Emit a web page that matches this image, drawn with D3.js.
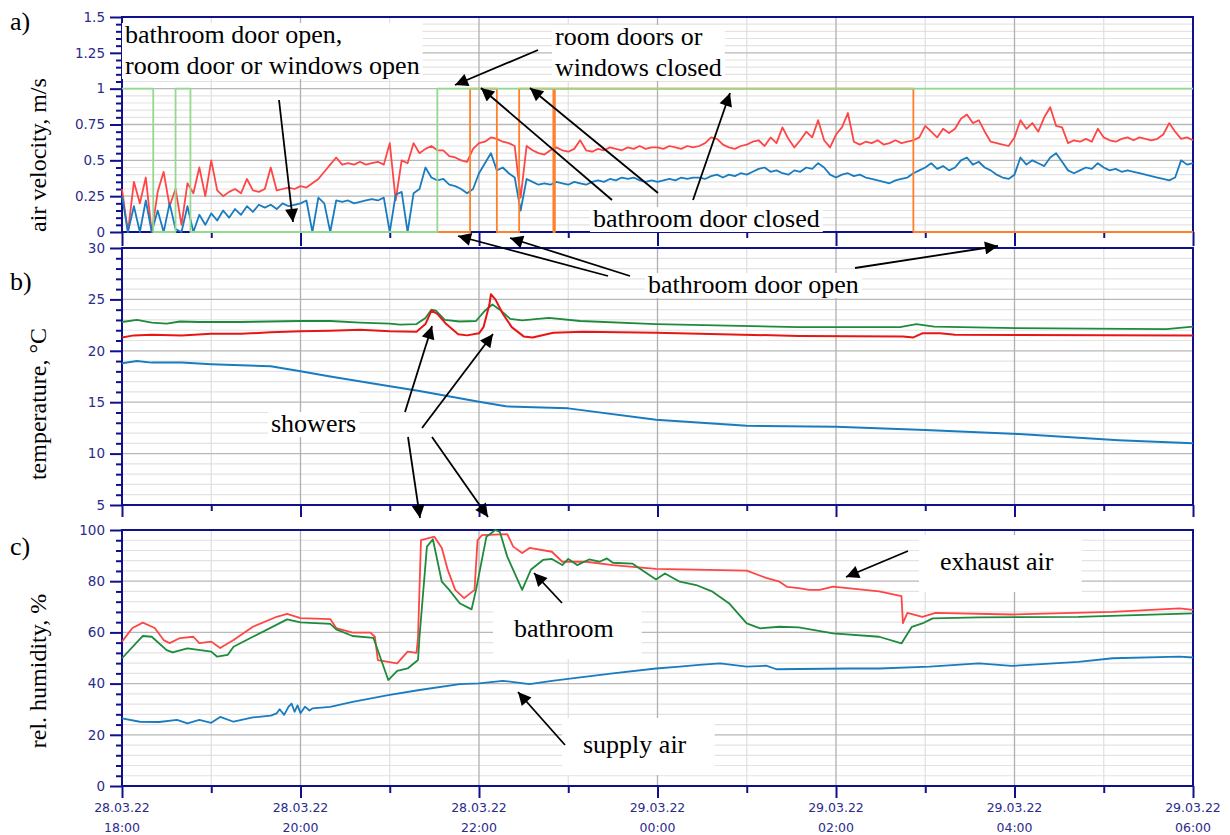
<!DOCTYPE html>
<html>
<head>
<meta charset="utf-8">
<script src="https://cdn.jsdelivr.net/npm/d3@7"></script>
<style>
body { margin: 0; background: #fff; }
svg text { font-family: "Liberation Serif", "Times New Roman", serif; }
.tk text { font-family: "DejaVu Sans", Tahoma, sans-serif; font-size: 12.5px; fill: #2b2b8c; }
.yl text { font-size: 13.5px; }
</style>
</head>
<body>
<svg id="chart" width="1230" height="835"></svg>
<script>
// ---- data ----
const xTickMinutes = [0, 120, 240, 360, 480, 600, 720];
const xTickDates = ['28.03.22', '28.03.22', '28.03.22', '29.03.22', '29.03.22', '29.03.22', '29.03.22'];
const xTickTimes = ['18:00', '20:00', '22:00', '00:00', '02:00', '04:00', '06:00'];

const veloTicks = [0, 0.25, 0.5, 0.75, 1, 1.25, 1.5];
const tempTicks = [5, 10, 15, 20, 25, 30];
const humTicks = [0, 20, 40, 60, 80, 100];

// air velocity, one sample every 4 minutes from 18:00
const veloMinutes = d3.range(0, 721, 4);
const veloExhaust = [
  0.30,0.00,0.35,0.20,0.38,0.00,0.28,0.42,0.18,0.30,0.05,0.34,0.27,0.45,0.25,
  0.50,0.29,0.25,0.28,0.30,0.27,0.37,0.29,0.28,0.30,0.45,0.29,0.30,0.31,0.30,
  0.32,0.31,0.34,0.37,0.42,0.47,0.52,0.47,0.48,0.47,0.49,0.47,0.48,0.49,0.47,
  0.62,0.22,0.50,0.48,0.62,0.55,0.58,0.60,0.57,0.57,0.53,0.52,0.50,0.49,0.58,
  0.62,0.63,0.66,0.65,0.63,0.62,0.60,0.24,0.60,0.57,0.55,0.54,0.57,0.59,0.57,
  0.56,0.58,0.64,0.57,0.56,0.58,0.57,0.59,0.58,0.57,0.59,0.58,0.60,0.58,0.59,
  0.59,0.58,0.60,0.59,0.58,0.60,0.59,0.60,0.62,0.66,0.65,0.61,0.59,0.58,0.60,
  0.61,0.63,0.64,0.60,0.66,0.62,0.73,0.65,0.59,0.64,0.70,0.66,0.78,0.64,0.59,
  0.68,0.73,0.83,0.63,0.61,0.63,0.62,0.64,0.61,0.62,0.64,0.62,0.63,0.64,0.66,
  0.74,0.70,0.66,0.72,0.69,0.72,0.79,0.82,0.76,0.78,0.70,0.63,0.62,0.61,0.60,
  0.66,0.78,0.72,0.76,0.70,0.80,0.87,0.74,0.73,0.62,0.64,0.63,0.65,0.63,0.72,
  0.66,0.64,0.63,0.65,0.66,0.64,0.66,0.65,0.64,0.65,0.68,0.76,0.70,0.65,0.66,
  0.64
];
const veloSupply = [
  0.25,0.00,0.18,0.00,0.22,0.00,0.15,0.00,0.20,0.02,0.00,0.18,0.00,0.12,0.05,
  0.13,0.08,0.15,0.10,0.16,0.12,0.18,0.14,0.19,0.17,0.19,0.16,0.20,0.18,0.19,
  0.20,0.22,0.00,0.24,0.20,0.00,0.22,0.21,0.22,0.20,0.21,0.22,0.23,0.22,0.24,
  0.00,0.26,0.28,0.00,0.27,0.30,0.45,0.38,0.36,0.37,0.33,0.32,0.30,0.27,0.30,
  0.41,0.48,0.55,0.43,0.45,0.41,0.38,0.15,0.37,0.35,0.33,0.34,0.33,0.35,0.34,
  0.33,0.35,0.34,0.33,0.35,0.36,0.35,0.37,0.36,0.38,0.37,0.38,0.36,0.35,0.36,
  0.35,0.36,0.37,0.36,0.38,0.37,0.38,0.38,0.37,0.39,0.40,0.38,0.40,0.39,0.41,
  0.40,0.42,0.44,0.45,0.42,0.43,0.41,0.40,0.43,0.42,0.45,0.44,0.48,0.45,0.40,
  0.38,0.40,0.41,0.39,0.40,0.38,0.37,0.36,0.35,0.34,0.36,0.37,0.38,0.41,0.43,
  0.45,0.48,0.44,0.46,0.43,0.45,0.50,0.52,0.47,0.49,0.45,0.43,0.40,0.38,0.37,
  0.40,0.52,0.47,0.50,0.48,0.46,0.52,0.55,0.49,0.43,0.41,0.43,0.45,0.44,0.48,
  0.45,0.43,0.44,0.42,0.43,0.42,0.41,0.40,0.39,0.38,0.37,0.36,0.38,0.50,0.47,
  0.48
];

// door states (1 = closed)
const roomDoorMin = [0, 21, 36, 46, 212, 720];
const roomDoorVal = [1, 0, 1, 0, 1, 1];
const bathDoorMin = [212, 234, 252, 267, 290, 291, 532, 720];
const bathDoorVal = [0, 1, 0, 1, 0, 1, 0, 0];

// temperature
const tempBathMin = [0,10,20,30,39,52,79,120,140,160,180,187,198,204,208,211,217,227,238,244,249,254,261,269,287,308,359,455,523,534,546,601,702,720];
const tempBath    = [22.8,23.0,22.75,22.65,22.85,22.8,22.8,22.9,22.9,22.75,22.65,22.55,22.6,23.2,24.0,23.9,23.0,22.85,22.9,23.9,24.5,24.0,23.1,22.95,23.2,22.9,22.6,22.3,22.3,22.6,22.35,22.2,22.1,22.35];
const tempExhMin = [0,8,20,40,60,80,100,120,140,160,180,198,204,208,212,218,226,232,240,243,247,248,251,256,262,270,276,290,310,359,455,525,532,538,550,560,720];
const tempExh    = [21.3,21.5,21.55,21.5,21.65,21.65,21.8,21.9,21.95,22.05,21.9,21.85,22.6,23.9,23.6,22.6,21.6,21.5,21.7,22.3,24.5,25.5,25.0,23.6,22.3,21.4,21.3,21.75,21.85,21.75,21.45,21.4,21.3,21.7,21.7,21.55,21.5];
const tempSupMin = [0,10,20,40,60,80,100,120,140,178,200,240,258,300,359,420,480,540,603,670,720];
const tempSup    = [18.8,19.0,18.85,18.85,18.7,18.6,18.5,18.0,17.5,16.6,16.1,15.05,14.6,14.4,13.3,12.7,12.6,12.3,11.9,11.3,11.0];

// relative humidity
const humExhMin = [0,7,14,22,28,32,39,48,52,60,66,75,88,104,111,120,140,144,155,167,170,172,185,192,198,199,201,210,215,219,224,230,237,239,242,259,263,269,274,289,296,312,330,359,420,433,442,447,455,462,469,478,509,524,525,528,538,547,598,666,711,720];
const humExh    = [56.4,61.7,63.8,61.7,57,55.8,57.8,58.3,55.8,56.4,53.9,57,62.2,66.1,67.2,65.6,65.2,61.7,59.9,59.9,58.3,49.2,47.9,52.5,52,58,96,97.4,93,84.4,76.6,73.4,76.6,96,98,98.4,93.5,91,93,91.5,87.6,87.6,86.3,84.8,84.1,81.3,79.8,77.8,77.3,76.6,76.6,77.9,76,74.2,63.6,67.6,66.1,67.6,67,68,69.4,68.8];
const humBathMin = [0,14,20,30,34,44,60,64,71,75,88,111,120,140,144,155,169,179,185,192,199,200,205,209,215,220,227,235,238,245,251,254,259,269,275,283,289,296,300,306,314,321,326,330,343,359,365,375,386,397,408,420,429,442,455,478,509,524,531,538,545,576,643,720];
const humBath    = [49.9,58.6,58.3,53.1,52.2,53.8,52.5,50.5,51.2,54.4,58.3,65.1,63.9,63.3,61.2,58.6,57.9,41.4,45,45.9,49.2,58.3,93.5,96.4,79.8,76.6,71.4,69,76.6,97.4,100,99.3,89.6,76.6,84.6,88.3,88.7,86.3,88.7,86.3,88.5,87.6,88.9,87.2,86.9,80.7,83,79.8,78.5,75.9,71.4,63.5,61.6,62.2,62,59.6,58.3,55.7,62.2,63.5,65.5,65.9,66.1,67.4];
const humSupMin = [0,12,25,37,44,52,60,66,75,88,100,104,106,109,112,114,116,118,120,123,126,128,140,155,179,200,227,240,256,274,289,308,330,359,375,388,402,420,433,440,455,489,509,543,576,598,643,666,711,720];
const humSup    = [26.4,25.1,25.0,25.8,24.5,25.8,24.7,27,25.1,26.8,27.5,28.4,30,27.8,31,32.2,29,31.5,28.4,31,29.5,30.3,30.9,32.9,35.5,37.5,39.8,40.1,41.1,39.8,41.1,42.4,44,45.9,46.6,47.3,47.9,46.6,47,45.6,45.7,45.9,45.9,46.6,47.9,46.9,48.5,49.9,50.5,50.2];

// ---- drawing ----
const svg = d3.select('#chart');
const navy = '#10108c';
const X0 = 122, X1 = 1193;
const x = d3.scaleLinear().domain([0, 720]).range([X0, X1]);

const panels = [
  {top: 17, bottom: 232, domain: [0, 1.5], ticks: veloTicks, minor: 0.05, label: 'a)', labelY: 30,
   title: 'air velocity, m/s', titleY: 155},
  {top: 248, bottom: 505, domain: [5, 30], ticks: tempTicks, minor: 1, label: 'b)', labelY: 290,
   title: 'temperature, \u00B0C', titleY: 404},
  {top: 530, bottom: 786, domain: [0, 100], ticks: humTicks, minor: 4, label: 'c)', labelY: 555,
   title: 'rel. humidity, %', titleY: 671}
];

panels.forEach((p, i) => {
  p.y = d3.scaleLinear().domain(p.domain).range([p.bottom, p.top]);
  const minorVals = d3.range(p.domain[0], p.domain[1] + 1e-9, p.minor)
    .filter(v => !p.ticks.some(t => Math.abs(t - v) < 1e-6));
  const g = svg.append('g');

  // grid
  g.selectAll('.hmin').data(minorVals).enter().append('line')
    .attr('x1', X0).attr('x2', X1)
    .attr('y1', d => p.y(d)).attr('y2', d => p.y(d))
    .attr('stroke', '#e3e3e3').attr('stroke-width', 1.2);
  g.selectAll('.vmin').data(d3.range(60, 720, 120)).enter().append('line')
    .attr('x1', d => x(d)).attr('x2', d => x(d))
    .attr('y1', p.top).attr('y2', p.bottom)
    .attr('stroke', '#e0e0e0').attr('stroke-width', 1.2);
  g.selectAll('.hmaj').data(p.ticks).enter().append('line')
    .attr('x1', X0).attr('x2', X1)
    .attr('y1', d => p.y(d)).attr('y2', d => p.y(d))
    .attr('stroke', '#b8b8b8').attr('stroke-width', 1.3);
  g.selectAll('.vmaj').data(xTickMinutes).enter().append('line')
    .attr('x1', d => x(d)).attr('x2', d => x(d))
    .attr('y1', p.top).attr('y2', p.bottom)
    .attr('stroke', '#b0b0b0').attr('stroke-width', 1.3);

  // y axis
  const yMinor = d3.axisLeft(p.y).tickValues(minorVals).tickSize(6).tickFormat('');
  const yMajor = d3.axisLeft(p.y).tickValues(p.ticks).tickSize(12).tickPadding(5)
    .tickFormat(d3.format('~g'));
  [yMinor, yMajor].forEach(ax => {
    const a = g.append('g').attr('class', 'tk yl').attr('transform', `translate(${X0},0)`).call(ax);
    a.select('.domain').remove();
    a.selectAll('line').attr('stroke', navy).attr('stroke-width', 2);
  });

  // x axis ticks
  const xMinorAx = d3.axisBottom(x).tickValues(d3.range(60, 720, 120)).tickSize(i == 2 ? 7 : 6).tickFormat('');
  const xMajorAx = d3.axisBottom(x).tickValues(xTickMinutes).tickSize(i == 0 ? 14 : 12).tickFormat('');
  [xMinorAx, xMajorAx].forEach(ax => {
    const a = g.append('g').attr('class', 'tk').attr('transform', `translate(0,${p.bottom})`).call(ax);
    a.select('.domain').remove();
    a.selectAll('line').attr('stroke', navy).attr('stroke-width', 2);
  });

  // frame
  g.append('rect').attr('x', X0).attr('y', p.top)
    .attr('width', X1 - X0).attr('height', p.bottom - p.top)
    .attr('fill', 'none').attr('stroke', navy).attr('stroke-width', 2);

  // panel letter and axis title
  svg.append('text').attr('x', 10).attr('y', p.labelY)
    .attr('font-size', 26).text(p.label);
  svg.append('text')
    .attr('transform', `translate(46,${p.titleY}) rotate(-90)`)
    .attr('text-anchor', 'middle').attr('font-size', 24).text(p.title);
});

// x tick labels (bottom panel only)
const xl = svg.append('g').attr('class', 'tk');
xTickMinutes.forEach((m, i) => {
  const t = xl.append('text').attr('text-anchor', 'middle');
  t.append('tspan').attr('x', x(m)).attr('y', 812).text(xTickDates[i]);
  t.append('tspan').attr('x', x(m)).attr('y', 832).text(xTickTimes[i]);
});

function series(mins, vals, p, color, w, curve) {
  const line = d3.line().x(d => x(d[0])).y(d => p.y(d[1]));
  if (curve) line.curve(curve);
  svg.append('path')
    .datum(mins.map((m, i) => [m, vals[i]]))
    .attr('d', line)
    .attr('fill', 'none').attr('stroke', color)
    .attr('stroke-width', w).attr('stroke-linejoin', 'round');
}

const [pa, pb, pc] = panels;
series(veloMinutes, veloExhaust, pa, '#ff4646', 1.8);
series(veloMinutes, veloSupply, pa, '#1a7cc0', 1.8);
series(bathDoorMin, bathDoorVal, pa, '#ff7f2a', 1.8, d3.curveStepAfter);
series(roomDoorMin, roomDoorVal, pa, '#93d98f', 1.8, d3.curveStepAfter);

series(tempSupMin, tempSup, pb, '#1a7cc0', 2);
series(tempBathMin, tempBath, pb, '#1e8a3c', 1.8);
series(tempExhMin, tempExh, pb, '#e81515', 2);

series(humSupMin, humSup, pc, '#1a7cc0', 1.8);
series(humExhMin, humExh, pc, '#ff4646', 1.8);
series(humBathMin, humBath, pc, '#1e8a3c', 1.8);

// ---- annotations ----
const notes = [
  {lines: ['bathroom door open,', 'room door or windows open'], x: 125, y: 43},
  {lines: ['room doors or', 'windows closed'], x: 555, y: 45},
  {lines: ['bathroom door closed'], x: 593, y: 227},
  {lines: ['bathroom door open'], x: 648, y: 293},
  {lines: ['showers'], x: 271, y: 432},
  {lines: ['exhaust air'], x: 940, y: 570, box: true},
  {lines: ['bathroom'], x: 514, y: 637, box: true},
  {lines: ['supply air'], x: 583, y: 753, box: true}
];
notes.forEach(n => {
  const g = svg.append('g');
  const bg = g.append('rect').attr('fill', '#fff');
  const t = g.append('text').attr('font-size', 26).attr('fill', '#000');
  n.lines.forEach((s, i) => t.append('tspan').attr('x', n.x).attr('y', n.y + i * 31).text(s));
  const b = t.node().getBBox();
  if (n.box) {
    bg.attr('x', b.x - 21).attr('y', n.y - 35).attr('width', b.width + 49).attr('height', 57);
  } else {
    bg.attr('x', b.x - 3).attr('y', b.y + 3).attr('width', b.width + 6).attr('height', b.height - 4);
  }
});

svg.append('defs').append('marker')
  .attr('id', 'head').attr('viewBox', '0 0 10 10')
  .attr('refX', 10).attr('refY', 5)
  .attr('markerWidth', 17).attr('markerHeight', 13)
  .attr('markerUnits', 'userSpaceOnUse').attr('orient', 'auto')
  .append('path').attr('d', 'M0,0L10,5L0,10z').attr('fill', '#000');

const arrows = [
  [279, 100, 293, 222],
  [538, 50, 455, 85],
  [612, 200, 481, 88],
  [658, 193, 530, 88],
  [693, 200, 730, 93],
  [608, 276, 458, 236],
  [630, 276, 510, 238],
  [855, 268, 998, 246],
  [405, 412, 432, 326],
  [422, 428, 493, 334],
  [408, 437, 420, 518],
  [432, 437, 488, 517],
  [908, 551, 846, 577],
  [562, 603, 534, 573],
  [565, 745, 518, 692]
];
svg.selectAll('.arrow').data(arrows).enter().append('line')
  .attr('x1', d => d[0]).attr('y1', d => d[1])
  .attr('x2', d => d[2]).attr('y2', d => d[3])
  .attr('stroke', '#000').attr('stroke-width', 1.8)
  .attr('marker-end', 'url(#head)');
</script>
</body>
</html>
